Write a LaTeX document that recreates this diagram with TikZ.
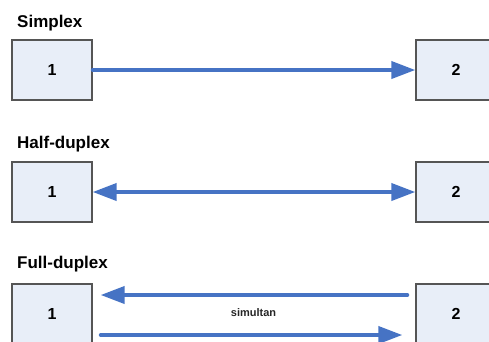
\documentclass[tikz,border=0pt]{standalone}
\usepackage{fontspec}
\setmainfont{Liberation Sans}
\usetikzlibrary{arrows.meta,calc}
\definecolor{boxfill}{HTML}{E8EEF8}
\definecolor{boxline}{HTML}{555555}
\definecolor{arrblue}{HTML}{4673C4}
\begin{document}
\begin{tikzpicture}[x=1pt,y=-1pt,
  station/.style={draw=boxline,line width=1.3pt,fill=boxfill,minimum width=80pt,minimum height=60pt,inner sep=0pt,font=\fontsize{16}{18}\selectfont\bfseries},
  heading/.style={anchor=base west,inner sep=0pt,font=\fontsize{17}{19}\selectfont\bfseries},
  link/.style={draw=arrblue,line width=3.8pt,line cap=round},
]
\useasboundingbox (0,0) rectangle (489,341);
\clip (0,0) rectangle (489,341);
% headings
\node[heading] (h1) at (17,27) {Simplex};
\node[heading] (h2) at (17,148) {Half-duplex};
\node[heading] (h3) at (17,268) {Full-duplex};
% boxes
\node[station] (a1) at (52,70) {1};
\node[station] (a2) at (456,70) {2};
\node[station] (b1) at (52,192) {1};
\node[station] (b2) at (456,192) {2};
\node[station] (c1) at (52,314) {1};
\node[station] (c2) at (456,314) {2};
% simplex
\draw[link,-{Triangle[length=24pt,width=17pt]}] (a1.east) -- (a2.west);
% half duplex
\draw[link,{Triangle[length=24pt,width=17pt]}-{Triangle[length=24pt,width=17pt]}] (b1.east) -- (b2.west);
% full duplex
\coordinate (t1) at ($(c2.west)+(-8,-19)$);
\coordinate (t2) at ($(c1.east)+(8,-19)$);
\coordinate (u1) at ($(c1.east)+(8,21)$);
\coordinate (u2) at ($(c2.west)+(-13,21)$);
\draw[link,-{Triangle[length=24pt,width=17pt]}] (t1) -- (t2);
\draw[link,-{Triangle[length=24pt,width=17pt]}] (u1) -- (u2);
\node[font=\fontsize{11}{13}\selectfont\bfseries,text=black!85] (s) at (253.5,313) {simultan};
\end{tikzpicture}
\end{document}
